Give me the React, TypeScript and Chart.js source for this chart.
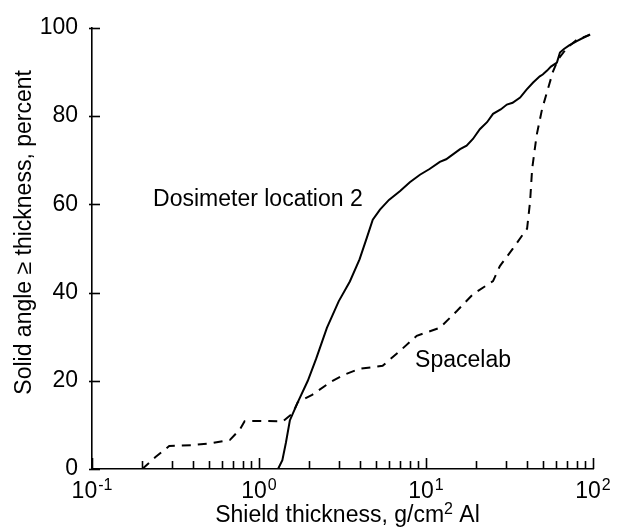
import React, { useEffect, useRef } from "react";
import { Chart, registerables } from "chart.js";

Chart.register(...registerables);

const FONT = '"Liberation Sans", Arial, Helvetica, sans-serif';

// X axis decade labels (base + exponent)
const xTickValues = [0.1, 1, 10, 100];
const xTickBase = ["10", "10", "10", "10"];
const xTickExp = ["-1", "0", "1", "2"];
// X minor ticks (multipliers within each decade)
const xMinorSteps = [2, 3, 4, 5, 6, 7, 8, 9];

// Y axis ticks
const yTickValues = [0, 20, 40, 60, 80, 100];

// Axis titles
const yTitle = "Solid angle \u2265 thickness, percent";
const xTitleMain = "Shield thickness, g/cm";
const xTitleSup = "2";
const xTitleTail = " Al";

// Dosimeter location 2 (solid)
const dosimeterX = [
  1.3, 1.38, 1.45, 1.53, 1.7, 1.96, 2.2, 2.55, 3.0, 3.5, 4.0, 4.43, 4.8, 5.3,
  6.0, 7.0, 8.0, 9.2, 10.5, 12.1, 13.2, 14.5, 16, 17.5, 19.1, 21, 23.2, 25.2,
  28, 30.5, 33, 36.6, 40, 43.8, 48, 50, 53.1, 56, 60.8, 63.4, 67, 72, 80, 88, 96,
];
const dosimeterY = [
  0, 2, 6, 11, 15, 20, 25, 32, 38, 42.5, 47.5, 52.5, 56.5, 58.8,
  61, 63, 65, 66.7, 68, 69.6, 70.2, 71.3, 72.5, 73.3, 74.8, 77, 78.6, 80.5,
  81.5, 82.6, 83, 84.2, 86, 87.6, 89, 89.4, 90.3, 91.2, 92.1, 94.4, 95.2, 96, 97, 97.8, 98.5,
];

// Spacelab (dashed)
const spacelabX = [
  0.2, 0.24, 0.29, 0.4, 0.53, 0.67, 0.77, 0.82, 1.0, 1.39, 1.59, 1.71, 2.08,
  2.7, 3.2, 4.0, 5.5, 7.0, 8.8, 12.1, 15.3, 19.1, 25.2, 27.7, 33.2, 40.3, 42,
  43.2, 46, 49.5, 53, 57.5, 61.7, 70, 80, 96,
];
const spacelabY = [
  0, 2.7, 5.2, 5.4, 5.9, 6.6, 9, 10.8, 10.9, 10.8, 12.6, 15.2, 16.8,
  19.8, 21.3, 22.7, 23.4, 26.8, 30.2, 32, 35.8, 39.6, 42.6, 46, 50, 54.5, 60.6,
  68, 75.7, 81.5, 85.4, 90, 92.8, 95.5, 97.3, 98.4,
];

// In-plot labels (anchored in data units)
const noteText = ["Dosimeter location 2", "Spacelab"];
const noteX = [0.232, 8.6];
const noteY = [59.5, 23.2];

const inkPlugin = {
  id: "ink",
  afterDraw(chart: any) {
    const ctx: CanvasRenderingContext2D = chart.ctx;
    const xs = chart.scales.x;
    const ys = chart.scales.y;
    const { left, right, top, bottom } = chart.chartArea;
    ctx.save();
    ctx.strokeStyle = "#000";
    ctx.fillStyle = "#000";
    ctx.lineWidth = 1.6;
    ctx.setLineDash([]);

    // inward x ticks: majors and minors
    const drawXTick = (v: number, len: number) => {
      const px = Math.round(xs.getPixelForValue(v)) + 0.5;
      ctx.beginPath();
      ctx.moveTo(px, bottom);
      ctx.lineTo(px, bottom - len);
      ctx.stroke();
    };
    xTickValues.forEach((v, i) => {
      drawXTick(v, 11);
      if (i < xTickValues.length - 1) {
        xMinorSteps.forEach((m) => drawXTick(v * m, 8));
      }
    });
    // inward y ticks
    yTickValues.forEach((v) => {
      const py = Math.round(ys.getPixelForValue(v)) + 0.5;
      ctx.beginPath();
      ctx.moveTo(left - 3, py);
      ctx.lineTo(left + 8, py);
      ctx.stroke();
    });

    // x tick labels with superscripts
    ctx.textAlign = "left";
    ctx.textBaseline = "alphabetic";
    xTickValues.forEach((v, i) => {
      const px = xs.getPixelForValue(v);
      ctx.font = `23px ${FONT}`;
      const bw = ctx.measureText(xTickBase[i]).width;
      ctx.font = `16px ${FONT}`;
      const ew = ctx.measureText(xTickExp[i]).width;
      const x0 = px - (bw + ew + 1) / 2;
      ctx.font = `23px ${FONT}`;
      ctx.fillText(xTickBase[i], x0, bottom + 29);
      ctx.font = `16px ${FONT}`;
      ctx.fillText(xTickExp[i], x0 + bw + 1, bottom + 21);
    });

    // x title
    ctx.font = `23px ${FONT}`;
    const w1 = ctx.measureText(xTitleMain).width;
    const w3 = ctx.measureText(xTitleTail).width;
    ctx.font = `16px ${FONT}`;
    const w2 = ctx.measureText(xTitleSup).width;
    const cx = (left + right) / 2 + 5;
    const tx = cx - (w1 + w2 + w3) / 2;
    const base = bottom + 53;
    ctx.font = `23px ${FONT}`;
    ctx.fillText(xTitleMain, tx, base);
    ctx.font = `16px ${FONT}`;
    ctx.fillText(xTitleSup, tx + w1, base - 8);
    ctx.font = `23px ${FONT}`;
    ctx.fillText(xTitleTail, tx + w1 + w2, base);

    // y title
    ctx.save();
    ctx.translate(left - 67, (top + bottom) / 2 - 16);
    ctx.rotate(-Math.PI / 2);
    ctx.textAlign = "center";
    ctx.textBaseline = "middle";
    ctx.font = `23px ${FONT}`;
    ctx.fillText(yTitle, 0, 0);
    ctx.restore();

    // in-plot notes
    ctx.textAlign = "left";
    ctx.textBaseline = "alphabetic";
    ctx.font = `23px ${FONT}`;
    noteText.forEach((s, i) => {
      ctx.fillText(s, xs.getPixelForValue(noteX[i]), ys.getPixelForValue(noteY[i]));
    });
    ctx.restore();
  },
};

export default function App() {
  const ref = useRef<HTMLCanvasElement | null>(null);
  useEffect(() => {
    document.body.style.margin = "0";
    document.body.style.background = "#fff";
    const canvas = ref.current;
    if (!canvas) return;
    const chart = new Chart(canvas, {
      type: "line",
      data: {
        datasets: [
          {
            label: "Dosimeter location 2",
            data: dosimeterX.map((x, i) => ({ x, y: dosimeterY[i] })),
            borderColor: "#000",
            borderWidth: 2,
            pointRadius: 0,
            tension: 0,
            fill: false,
          },
          {
            label: "Spacelab",
            data: spacelabX.map((x, i) => ({ x, y: spacelabY[i] })),
            borderColor: "#000",
            borderWidth: 2,
            borderDash: [9, 7],
            pointRadius: 0,
            tension: 0,
            fill: false,
          },
        ],
      },
      options: {
        responsive: false,
        animation: false,
        events: [],
        layout: { padding: { top: 25, right: 25, left: 0, bottom: 0 } },
        plugins: {
          legend: { display: false },
          tooltip: { enabled: false },
        },
        scales: {
          x: {
            type: "logarithmic",
            min: 0.1,
            max: 100,
            grid: { display: false, drawTicks: false },
            border: { display: true, color: "#000", width: 1.6 },
            ticks: { display: false },
            afterFit: (s: any) => {
              s.height = 60;
            },
          },
          y: {
            type: "linear",
            min: 0,
            max: 100,
            grid: { display: false, drawTicks: false },
            border: { display: true, color: "#000", width: 1.6 },
            ticks: {
              stepSize: 20,
              padding: 14,
              color: "#000",
              font: { family: FONT, size: 23 },
            },
            afterFit: (s: any) => {
              s.width = 92;
            },
          },
        },
      },
      plugins: [inkPlugin],
    });
    return () => chart.destroy();
  }, []);
  return (
    <div style={{ width: 618, height: 529, background: "#fff" }}>
      <canvas ref={ref} width={618} height={529} style={{ display: "block" }} />
    </div>
  );
}
